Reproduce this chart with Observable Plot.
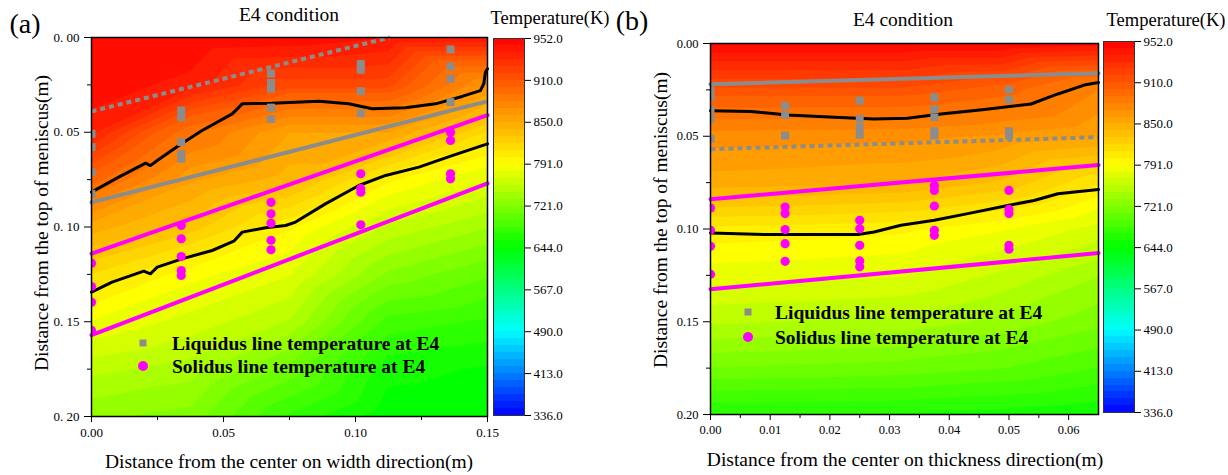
<!DOCTYPE html>
<html><head><meta charset="utf-8">
<script src="https://cdn.jsdelivr.net/npm/d3@7"></script>
<script src="https://cdn.jsdelivr.net/npm/@observablehq/plot@0.6"></script>
<style>
body{margin:0;background:#fff;}
#root{position:relative;width:1228px;height:475px;overflow:hidden;font-family:"Liberation Serif","DejaVu Serif",serif;color:#000;}
.abs{position:absolute;white-space:nowrap;line-height:1;}
.ctr{transform:translate(-50%,-50%);}
.rot{transform:translate(-50%,-50%) rotate(-90deg);}
.leg{font-weight:bold;transform:translate(0,-50%);}
</style></head><body><div id="root"></div>
<script>
// ---------- colour bar ----------
const tempTicks  = [336, 413, 490, 567, 644, 721, 791, 850, 910, 952];
const tempColors = ["#0000ff","#0080ff","#00ffff","#00ff80","#00ff00","#80ff00","#ffff00","#ffaa00","#ff5500","#ff0000"];

// ---------- panel (a): temperature field ----------
const gridAx = [0, 0.0375, 0.075, 0.1125, 0.15];
const gridAy = [0, 0.025, 0.05, 0.075, 0.1, 0.125, 0.15, 0.175, 0.2];
const tempA = [
  [952, 952, 950, 945, 945],
  [950, 942, 920, 920, 870],
  [940, 893, 860, 860, 820],
  [905, 862, 845, 803, 780],
  [855, 835, 803, 765, 745],
  [820, 795, 780, 730, 710],
  [790, 775, 755, 690, 680],
  [760, 750, 716, 662, 655],
  [735, 728, 680, 648, 645]
];
const aGrayDotted = [[0, 0.039], [0.113, 0.0]];
const aGraySolid  = [[0, 0.087], [0.149, 0.034]];
const aMagUpper   = [[0, 0.114], [0.15, 0.041]];
const aMagLower   = [[0, 0.157], [0.15, 0.077]];
const aBlackUpper = [[0,0.0816],[0.0103,0.0737],[0.0205,0.0663],[0.0223,0.0676],[0.0249,0.0649],[0.0331,0.057],[0.0419,0.0491],[0.0533,0.0403],[0.0571,0.035],[0.0684,0.0347],[0.0861,0.0336],[0.0975,0.035],[0.1063,0.0376],[0.1189,0.0371],[0.1303,0.035],[0.1404,0.0311],[0.1473,0.028],[0.1486,0.0244],[0.1492,0.0183],[0.15,0.0165]];
const aBlackLower = [[0,0.1344],[0.0078,0.1291],[0.0198,0.1233],[0.0223,0.1247],[0.0249,0.1212],[0.0343,0.1168],[0.0457,0.1124],[0.0539,0.1075],[0.0571,0.1027],[0.0659,0.1004],[0.0735,0.0992],[0.0773,0.0974],[0.0886,0.0878],[0.1013,0.0781],[0.1114,0.0728],[0.124,0.0684],[0.1366,0.0623],[0.15,0.0561]];
const aLiquidus = [[0,0.0508],[0,0.0579],[0,0.0711],[0,0.0825],[0.034,0.0385],[0.034,0.0421],[0.034,0.0552],[0.034,0.0614],[0.034,0.064],[0.068,0.019],[0.068,0.024],[0.068,0.027],[0.068,0.037],[0.068,0.043],[0.102,0.0139],[0.102,0.017],[0.102,0.0283],[0.102,0.04],[0.136,0.0063],[0.136,0.0153],[0.136,0.0218],[0.136,0.0341]];
const aSolidus  = [[0,0.1191],[0,0.1314],[0,0.1397],[0,0.1546],[0.034,0.0992],[0.034,0.1062],[0.034,0.1156],[0.034,0.123],[0.034,0.1256],[0.068,0.087],[0.068,0.093],[0.068,0.098],[0.068,0.107],[0.068,0.112],[0.102,0.0719],[0.102,0.0798],[0.102,0.0816],[0.102,0.0988],[0.136,0.05],[0.136,0.0543],[0.136,0.0719],[0.136,0.0746]];
const aXTicks = [0, 0.05, 0.10, 0.15];
const aXMinor = [0.025, 0.075, 0.125];
const yTicks  = [0, 0.05, 0.10, 0.15, 0.20];
const yMinor  = [0.025, 0.075, 0.125, 0.175];

// ---------- panel (b) ----------
const gridBx = [0, 0.016, 0.0325, 0.049, 0.065];
const gridBy = [0, 0.025, 0.05, 0.075, 0.1, 0.125, 0.15, 0.175, 0.2];
const tempB = [
  [952, 952, 952, 952, 948],
  [915, 915, 915, 905, 880],
  [875, 874, 873, 868, 860],
  [855, 853, 850, 838, 812],
  [808, 806, 803, 792, 775],
  [785, 783, 780, 765, 745],
  [758, 755, 752, 740, 725],
  [720, 718, 715, 708, 695],
  [670, 669, 668, 664, 658]
];
const bGraySolid  = [[0, 0.022], [0.065, 0.016]];
const bGrayDotted = [[0, 0.057], [0.065, 0.0505]];
const bMagUpper   = [[0, 0.084], [0.065, 0.0655]];
const bMagLower   = [[0, 0.1325], [0.065, 0.113]];
const bBlackUpper = [[0,0.0362],[0.0068,0.0367],[0.0129,0.0385],[0.0207,0.0398],[0.0274,0.0407],[0.033,0.0403],[0.0386,0.038],[0.0459,0.0356],[0.0537,0.0326],[0.0582,0.0272],[0.0626,0.0224],[0.065,0.021]];
const bBlackLower = [[0,0.1021],[0.0096,0.103],[0.0247,0.103],[0.0274,0.1016],[0.0319,0.098],[0.0375,0.0953],[0.0431,0.0917],[0.0498,0.0873],[0.0542,0.0846],[0.0582,0.081],[0.065,0.0787]];
const bLiquidus = [[0,0.0254],[0,0.0287],[0,0.0357],[0,0.0406],[0,0.0514],[0.0125,0.0335],[0.0125,0.0385],[0.0125,0.0496],[0.025,0.0308],[0.025,0.0406],[0.025,0.0452],[0.025,0.0491],[0.0375,0.029],[0.0375,0.0353],[0.0375,0.0398],[0.0375,0.0473],[0.0375,0.0496],[0.05,0.0249],[0.05,0.0303],[0.05,0.0473],[0.05,0.0496]];
const bSolidus  = [[0,0.0887],[0,0.1007],[0,0.1093],[0,0.1244],[0.0125,0.0882],[0.0125,0.0917],[0.0125,0.1003],[0.0125,0.1079],[0.0125,0.1174],[0.025,0.0953],[0.025,0.0998],[0.025,0.1088],[0.025,0.1172],[0.025,0.1204],[0.0375,0.0765],[0.0375,0.0792],[0.0375,0.0876],[0.0375,0.1007],[0.0375,0.1034],[0.05,0.0792],[0.05,0.0894],[0.05,0.0917],[0.05,0.1088],[0.05,0.1109]];
const bXTicks = [0, 0.01, 0.02, 0.03, 0.04, 0.05, 0.06];
const bXMinor = [0.005, 0.015, 0.025, 0.035, 0.045, 0.055];

// ---------- helpers ----------
const root = document.getElementById("root");
const FONT = "'Liberation Serif', 'DejaVu Serif', serif";
const GRAY = "#8c8c8c", MAG = "#ff00ff";
const colorScale = {type: "linear", domain: tempTicks, range: tempColors};
const posToT = d3.scaleLinear().domain(d3.range(tempTicks.length)).range(tempTicks);
const BANDS = 6;
const edgesT = d3.range((tempTicks.length - 1) * BANDS + 1).map(k => posToT(k / BANDS));
const pts = arr => arr.map(([x, y]) => ({x, y}));
const grid = (xs, ys, T) => ys.flatMap((y, i) => xs.map((x, j) => ({x, y, t: T[i][j]})));

function place(el, left, top) { el.style.position = "absolute"; el.style.left = left + "px"; el.style.top = top + "px"; root.appendChild(el); }
function text(str, x, y, size, cls = "ctr", extra = "") {
  const d = document.createElement("div");
  d.className = "abs " + cls; d.textContent = str;
  d.style.cssText += `left:${x}px;top:${y}px;font-size:${size}px;${extra}`;
  root.appendChild(d); return d;
}
function swatch(x, y, shape, color) {
  const d = document.createElement("div");
  d.className = "abs ctr";
  const s = shape === "square" ? 7 : 10;
  d.style.cssText += `left:${x}px;top:${y}px;width:${s}px;height:${s}px;background:${color};border-radius:${shape === "square" ? 0 : "50%"}`;
  root.appendChild(d);
}

function panel(o) {
  const line = (d, stroke, extra = {}) => Plot.line(pts(d), {x: "x", y: "y", stroke, strokeWidth: 4, ...extra});
  return Plot.plot({
    width: o.width, height: 475,
    marginLeft: o.ml, marginRight: o.mr, marginTop: o.mt, marginBottom: o.mb,
    style: {fontFamily: FONT, fontSize: o.fs + "px", background: "transparent", color: "#000", overflow: "visible"},
    x: {domain: o.xDomain},
    y: {domain: [0, 0.2], reverse: true},
    color: colorScale,
    marks: [
      Plot.contour(grid(o.gx, o.gy, o.T), {x: "x", y: "y", value: "t", fill: "value", stroke: "value", strokeWidth: 0.6, thresholds: edgesT, interpolate: "barycentric"}),
      line(o.blackUpper, "black", {strokeWidth: 3}),
      line(o.blackLower, "black", {strokeWidth: 3}),
      line(o.grayDotted, GRAY, {strokeDasharray: "5,4", strokeLinecap: "butt"}),
      line(o.graySolid, GRAY),
      line(o.magUpper, MAG),
      line(o.magLower, MAG),
      Plot.dot(pts(o.liq), {x: "x", y: "y", symbol: "square", r: 4.5, fill: GRAY, clip: true}),
      Plot.dot(pts(o.sol), {x: "x", y: "y", r: 4.6, fill: MAG, clip: true}),
      Plot.frame({stroke: "black", strokeWidth: 1.5}),
      Plot.axisX({ticks: o.xTicks, tickFormat: d => d.toFixed(2), tickSize: 6, tickPadding: 5, label: null}),
      Plot.axisX({ticks: o.xMinor, tickFormat: () => "", tickSize: 4, label: null}),
      Plot.axisY({ticks: yTicks, tickFormat: o.yFmt, tickSize: 7, tickPadding: 5, label: null}),
      Plot.axisY({ticks: yMinor, tickFormat: () => "", tickSize: 4, label: null})
    ]
  });
}

function colorbar(mt, mb) {
  const bands = d3.range((tempTicks.length - 1) * BANDS).map(k => ({p0: k / BANDS, p1: (k + 1) / BANDS, t: posToT((k + 0.5) / BANDS)}));
  return Plot.plot({
    width: 100, height: 475, marginLeft: 13, marginRight: 56, marginTop: mt, marginBottom: mb,
    style: {fontFamily: FONT, fontSize: "13px", background: "transparent", color: "#000", overflow: "visible"},
    x: {domain: [0, 1], axis: null},
    y: {domain: [0, tempTicks.length - 1]},
    color: colorScale,
    marks: [
      Plot.rect(bands, {x1: 0, x2: 1, y1: "p0", y2: "p1", fill: "t", shapeRendering: "crispEdges"}),
      Plot.frame({stroke: "#333", strokeWidth: 1}),
      Plot.axisY({anchor: "right", ticks: d3.range(tempTicks.length), tickFormat: i => tempTicks[i].toFixed(1), tickSize: 6, tickPadding: 3, label: null})
    ]
  });
}

// ---------- panel (a) ----------
place(panel({
  width: 495, ml: 91, mr: 8, mt: 37, mb: 59, fs: 13,
  xDomain: [0, 0.15], gx: gridAx, gy: gridAy, T: tempA,
  blackUpper: aBlackUpper, blackLower: aBlackLower, grayDotted: aGrayDotted, graySolid: aGraySolid,
  magUpper: aMagUpper, magLower: aMagLower, liq: aLiquidus, sol: aSolidus,
  xTicks: aXTicks, xMinor: aXMinor, yFmt: d => d.toFixed(2).replace(".", ". ")
}), 0, 0);
place(colorbar(38, 60), 480, 0);

// ---------- panel (b) ----------
place(panel({
  width: 505, ml: 110, mr: 7, mt: 43, mb: 61, fs: 12.5,
  xDomain: [0, 0.065], gx: gridBx, gy: gridBy, T: tempB,
  blackUpper: bBlackUpper, blackLower: bBlackLower, grayDotted: bGrayDotted, graySolid: bGraySolid,
  magUpper: bMagUpper, magLower: bMagLower, liq: bLiquidus, sol: bSolidus,
  xTicks: bXTicks, xMinor: bXMinor, yFmt: d => d.toFixed(2)
}), 600, 0);
place(colorbar(41, 63), 1090, 0);

// ---------- texts ----------
text("(a)", 25, 24, 28);
text("(b)", 632, 21, 28);
text("E4 condition", 289, 15, 19.5);
text("E4 condition", 903, 20, 19.5);
text("Temperature(K)", 550, 18, 18.5);
text("Temperature(K)", 1166, 20, 18.5);
text("Distance from the center on width direction(m)", 289, 462, 19.5);
text("Distance from the center on thickness direction(m)", 905, 460, 19.5);
text("Distance from the top of meniscus(m)", 42, 223, 19.5, "rot");
text("Distance from the top of meniscus(m)", 661, 220, 19.5, "rot");

// legends
swatch(143, 343, "square", GRAY);
swatch(143, 366, "circle", MAG);
text("Liquidus line temperature at E4", 172, 344, 19.5, "leg");
text("Solidus line temperature at E4", 172, 367, 19.5, "leg");
swatch(748, 312, "square", GRAY);
swatch(748, 337, "circle", MAG);
text("Liquidus line temperature at E4", 775, 313, 19.5, "leg");
text("Solidus line temperature at E4", 775, 338, 19.5, "leg");
</script></body></html>
